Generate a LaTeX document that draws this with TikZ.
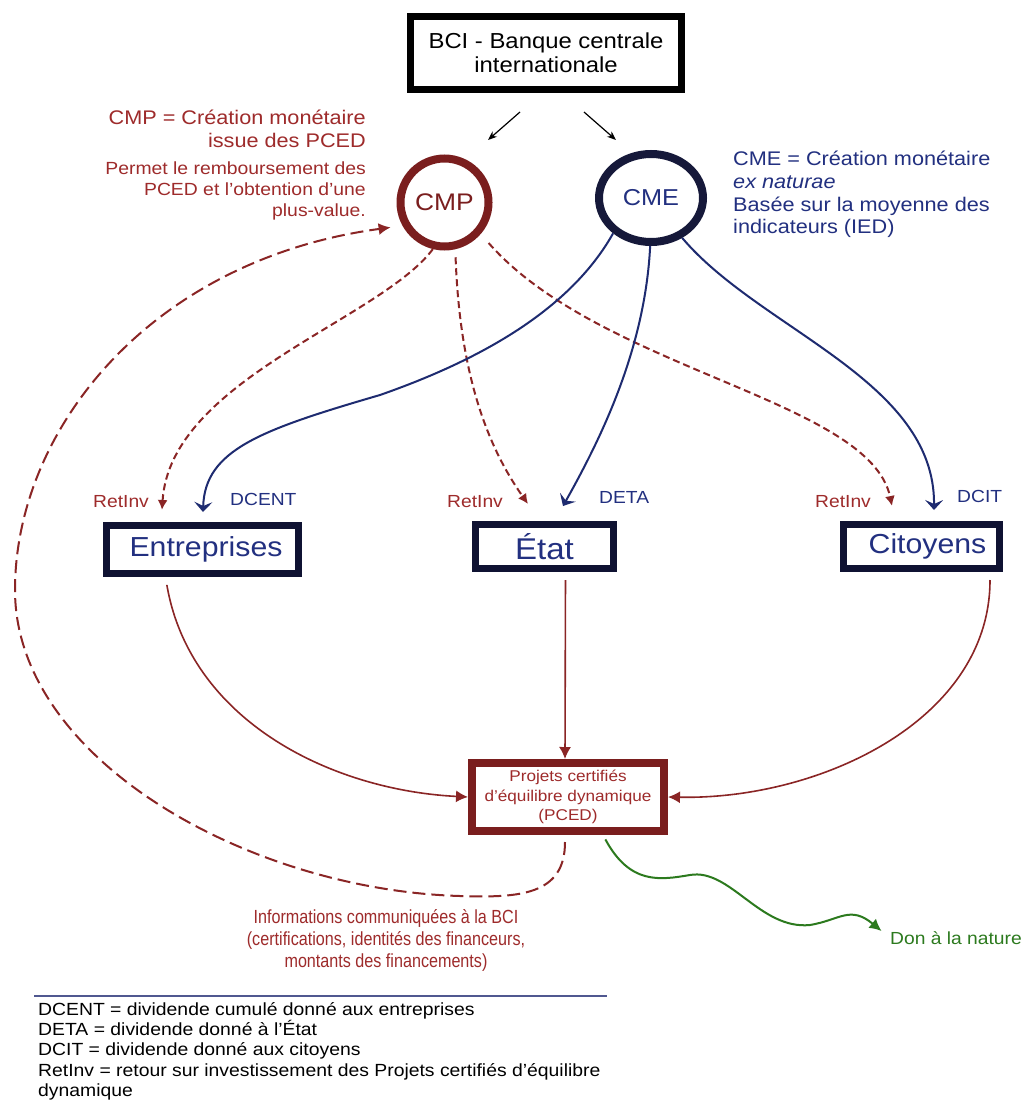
\documentclass[tikz,border=0pt]{standalone}
\usepackage{fontspec}
\setmainfont{Liberation Sans}[FakeStretch=1.1]
\newfontfamily\narrowfont{Liberation Sans}[FakeStretch=0.85]
\usetikzlibrary{arrows.meta,calc,shapes.geometric}
\newcommand\myfs[2]{\fontsize{#1}{#2}\selectfont}
\definecolor{cmpred}{HTML}{7A1E1E}
\definecolor{txtred}{HTML}{9E2B2B}
\definecolor{linered}{HTML}{8A2525}
\definecolor{navybox}{HTML}{0F1232}
\definecolor{navytxt}{HTML}{223080}
\definecolor{navyline}{HTML}{1E2B70}
\definecolor{cmenavy}{HTML}{16193A}
\definecolor{natgreen}{HTML}{2C7A1E}
\definecolor{rulecol}{HTML}{505890}
\begin{document}
\begin{tikzpicture}[x=1pt,y=-1pt,
  nbox/.style={draw=navybox, line width=7pt, fill=white, inner sep=0pt, text=navytxt},
  lab/.style={inner sep=0pt, anchor=base west, font=\myfs{17.5}{20}},
  rdash/.style={draw=linered, line width=2pt, dash pattern=on 7pt off 4pt, -{Latex[length=10pt,width=10pt]}},
  rdashlong/.style={draw=linered, line width=2pt, dash pattern=on 13pt off 6pt, -{Latex[length=12pt,width=12pt]}},
  narr/.style={draw=navyline, line width=2pt, -{Stealth[length=10pt,width=18pt,inset=4pt]}},
  rsolid/.style={draw=linered, line width=1.6pt, -{Latex[length=12pt,width=12pt]}},
  garr/.style={draw=natgreen, line width=2pt, -{Latex[length=12pt,width=12pt]}},
  bciarr/.style={draw=black, line width=1.2pt, -{Stealth[length=9pt,width=7pt]}}
]
\fill[white] (0,0) rectangle (1029,1102);
\useasboundingbox (0,0) rectangle (1029,1102);

% main nodes
\node[draw=black, line width=7pt, minimum width=271pt, minimum height=73pt, inner sep=0pt,
      align=center, font=\myfs{21.7}{24}] (bci) at (546,53) {BCI - Banque centrale\\internationale};
\node[circle, draw=cmpred, line width=8pt, minimum size=88pt, inner sep=0pt,
      text=cmpred, font=\myfs{24}{26}] (cmp) at (444.5,202.5) {CMP};
\node[ellipse, draw=cmenavy, line width=8pt, minimum width=104pt, minimum height=88pt, inner sep=0pt,
      text=navytxt, font=\myfs{23}{26}] (cme) at (651,198) {CME};
\node[nbox, minimum width=192pt, minimum height=48pt, font=\myfs{27.5}{30}] (ent) at (202.5,549.5) {\hspace*{7pt}Entreprises};
\node[nbox, minimum width=138pt, minimum height=44pt, font=\myfs{30}{32}] (etat) at (544.5,546.5) {État};
\node[nbox, minimum width=156pt, minimum height=44pt, font=\myfs{27.5}{30}] (cit) at (921.5,546.5) {\hspace*{12pt}Citoyens};
\node[draw=cmpred, line width=8pt, fill=white, minimum width=192pt, minimum height=68pt, inner sep=0pt,
      align=center, text=txtred, font=\myfs{15.6}{19.5}] (pced) at (568,797)
      {Projets certifiés\\d’équilibre dynamique\\(PCED)};

% texts
\node[inner sep=0pt, anchor=north east, align=right, text=txtred, font=\myfs{19.7}{23}] (cmpdef)
      at (366,110) {CMP = Création monétaire\\issue des PCED};
\node[inner sep=0pt, anchor=north east, align=right, text=txtred, font=\myfs{17.6}{21}] (cmpnote)
      at (366,162) {Permet le remboursement des\\PCED et l’obtention d’une\\plus-value.};
\node[inner sep=0pt, anchor=north west, align=left, text=navytxt, font=\myfs{19.7}{22.7}] (cmedef)
      at (733,151) {CME = Création monétaire\\\textit{ex naturae}\\Basée sur la moyenne des\\indicateurs (IED)};

\node[lab, text=txtred] (r1) at (93,507) {RetInv};
\node[lab, text=navytxt] (d1) at (230,505) {DCENT};
\node[lab, text=txtred] (r2) at (447,507) {RetInv};
\node[lab, text=navytxt] (d2) at (599,503) {DETA};
\node[lab, text=txtred] (r3) at (815,507) {RetInv};
\node[lab, text=navytxt] (d3) at (957,502) {DCIT};

\node[inner sep=0pt, align=center, text=txtred, font=\narrowfont\myfs{19}{22}] (info) at (386,940)
      {Informations communiquées à la BCI\\(certifications, identités des financeurs,\\montants des financements)};
\node[inner sep=0pt, anchor=west, text=natgreen, font=\myfs{17.5}{20}] (don) at (890,938) {Don à la nature};

\draw[rulecol, line width=1.2pt] (34,996) -- (607,996);
\node[inner sep=0pt, anchor=north west, align=left, font=\myfs{17.6}{20.3}] (leg) at (38,1002)
      {DCENT = dividende cumulé donné aux entreprises\\DETA = dividende donné à l’État\\DCIT = dividende donné aux citoyens\\RetInv = retour sur investissement des Projets certifiés d’équilibre\\dynamique};

% free ends
\coordinate (b1s) at (520,112);
\coordinate (b1e) at (488,140);
\coordinate (b2s) at (584,112);
\coordinate (b2e) at (616,140);
\coordinate (retE) at (162,510);
\coordinate (dcE) at (203,512);
\coordinate (retS) at (528,504);
\coordinate (dcS) at (563,506);
\coordinate (retC) at (892,506);
\coordinate (dcC) at (934,510);

% connectors
\draw[bciarr] (b1s) -- (b1e);
\draw[bciarr] (b2s) -- (b2e);

\draw[rdash] (cmp.256) .. controls (380,320) and (170,380) .. (retE);
\draw[rdash, shorten <=8pt] (cmp.283) .. controls (460,380) and (490,450) .. (retS);
\draw[rdash, shorten <=12pt] (cmp.319) .. controls (600,370) and (870,400) .. (retC);

\draw[narr] (cme.223) .. controls (570,310) and (480,360) .. (380,395) .. controls (260,430) and (205,450) .. (dcE);
\draw[narr] (cme.269) .. controls (645,350) and (600,440) .. (dcS);
\draw[narr] (cme.308) .. controls (760,330) and (935,380) .. (dcC);

\draw[rsolid, shorten <=8pt] ($(ent.south)+(-37,0)$) .. controls (190,720) and (330,790) .. (pced.west);
\draw[rsolid, shorten <=8pt] ($(etat.south)+(21,0)$) -- ($(pced.north)+(-3,0)$);
\draw[rsolid, shorten <=8pt] ($(cit.south east)+(-13,0)$) .. controls (990,720) and (820,800) .. (pced.east);

\draw[rdashlong, shorten <=7pt, shorten >=12pt] ($(pced.south)+(-3,0)$) .. controls (565,895) and (520,898) .. (460,896)
   .. controls (250,890) and (15,760) .. (15,590) .. controls (15,430) and (150,260) .. (cmp.209);

\draw[garr, shorten <=5pt, shorten >=11pt] ($(pced.south)+(35,0)$) .. controls (630,885) and (660,880) .. (690,875)
   .. controls (730,868) and (760,930) .. (810,925) .. controls (840,920) and (850,905) .. (don.west);
\end{tikzpicture}
\end{document}
